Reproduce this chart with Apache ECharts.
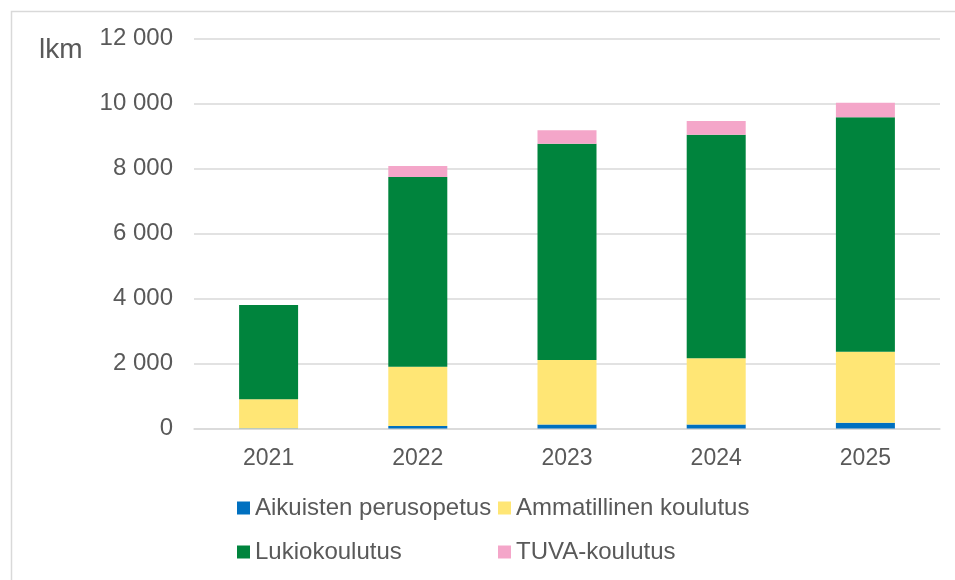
<!DOCTYPE html>
<html>
<head>
<meta charset="utf-8">
<script src="https://cdn.jsdelivr.net/npm/echarts@6/dist/echarts.min.js"></script>
<style>
  html, body { margin: 0; padding: 0; background: #fff; }
  #chart { width: 955px; height: 580px; }
</style>
</head>
<body>
<div id="chart"></div>
<script>
var years = ['2021', '2022', '2023', '2024', '2025'];
var aikuisten = [10, 80, 120, 120, 180];
var ammatillinen = [890, 1820, 1990, 2040, 2180];
var lukio = [2900, 5840, 6650, 6880, 7220];
var tuva = [0, 340, 420, 420, 440];
var yTicks = [0, 2000, 4000, 6000, 8000, 10000, 12000];

var myChart = echarts.init(document.getElementById('chart'));
var txt = '#595959';
var font = 'Liberation Sans, Arial, sans-serif';

function fmt(v) {
  return String(v).replace(/\B(?=(\d{3})+(?!\d))/g, ' ');
}

var legendText = { color: txt, fontSize: 24, fontFamily: font, lineHeight: 24 };

var option = {
  animation: false,
  textStyle: { fontFamily: font },
  color: ['#0070C0', '#FFE675', '#00843D', '#F4A6C9'],
  graphic: [
    {
      type: 'rect',
      left: 9, top: 9,
      shape: { width: 1000, height: 600 },
      style: { fill: 'none', stroke: '#d9d9d9', lineWidth: 1.5 }
    },
    {
      type: 'text',
      left: 39, top: 36,
      style: { text: 'lkm', fill: txt, font: '28px ' + font }
    }
  ],
  grid: { left: 194, right: 15, top: 38.5, bottom: 151.5, containLabel: false },
  legend: [
    {
      orient: 'vertical',
      left: 237, top: 496, padding: 0,
      itemWidth: 13, itemHeight: 13, itemGap: 20,
      icon: 'rect',
      textStyle: legendText,
      data: ['Aikuisten perusopetus', 'Lukiokoulutus']
    },
    {
      orient: 'vertical',
      left: 498, top: 496, padding: 0,
      itemWidth: 13, itemHeight: 13, itemGap: 20,
      icon: 'rect',
      textStyle: legendText,
      data: ['Ammatillinen koulutus', 'TUVA-koulutus']
    }
  ],
  xAxis: {
    type: 'category',
    data: years,
    axisLine: { lineStyle: { color: '#d9d9d9', width: 1.5 } },
    axisTick: { show: false },
    axisLabel: { color: txt, fontSize: 23, margin: 19 }
  },
  yAxis: {
    type: 'value',
    min: yTicks[0],
    max: yTicks[yTicks.length - 1],
    interval: 2000,
    axisLine: { show: false },
    axisTick: { show: false },
    splitLine: { lineStyle: { color: '#d9d9d9', width: 1.5 } },
    axisLabel: { color: txt, fontSize: 24, margin: 21, formatter: fmt }
  },
  series: [
    { name: 'Aikuisten perusopetus', type: 'bar', stack: 'a', barWidth: 59, data: aikuisten },
    { name: 'Ammatillinen koulutus', type: 'bar', stack: 'a', barWidth: 59, data: ammatillinen },
    { name: 'Lukiokoulutus', type: 'bar', stack: 'a', barWidth: 59, data: lukio },
    { name: 'TUVA-koulutus', type: 'bar', stack: 'a', barWidth: 59, data: tuva }
  ]
};
myChart.setOption(option);
</script>
</body>
</html>
